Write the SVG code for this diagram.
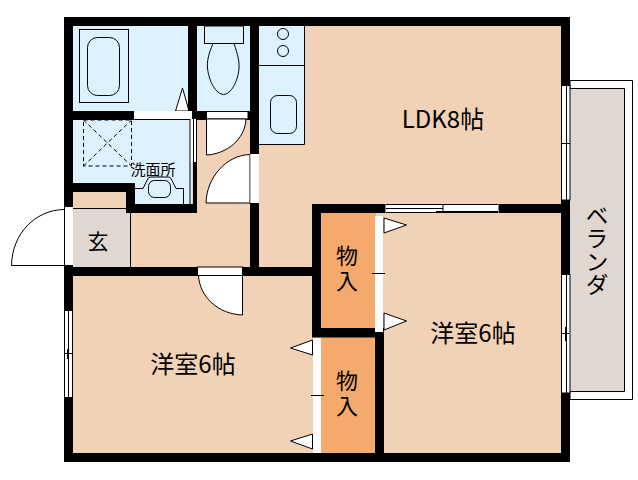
<svg xmlns="http://www.w3.org/2000/svg" width="638" height="480" viewBox="0 0 638 480">
<style>
.w{fill:#000}
.f{fill:#f2d2b6}
.b{fill:#ddf1ff}
.c{fill:#f4aa6d}
.g{fill:#e0d8d0}
.l{fill:none;stroke:#000;stroke-width:1}
.s{fill:#fff;stroke:#000;stroke-width:1}
.o{fill:#fff}
.d{fill:none;stroke:#000;stroke-width:1;stroke-dasharray:4 3}
text{font-family:"Noto Sans CJK JP","Noto Sans",sans-serif;fill:#000;text-anchor:middle}
.t{font-size:23px}
.m{font-size:22px}
</style>
<rect width="638" height="480" fill="#fff"/>
<g id="balcony">
<path class="s" d="M570 80.500H632.500V399.500H570Z"/>
<path class="g" d="M570 88H624V391H570Z"/>
<path class="l" d="M570 88.500H624.500V391.500H570"/>
<text font-size="23" style="font-size:23px;writing-mode:vertical-rl;text-orientation:upright" x="597" y="250">ベランダ</text>
</g>
<g id="floors">
<rect class="f" x="70" y="20" width="495" height="438"/>
</g>
<g id="bath">
<rect class="b" x="70" y="24" width="120" height="90"/>
<rect class="l" x="79.500" y="29.500" width="49" height="73"/>
<rect class="l" x="87.500" y="37.500" width="32" height="58" rx="10"/>
<path class="s" d="M175.500 111L182.500 88L189 111Z"/>
</g>
<g id="toilet">
<rect class="b" x="195" y="24" width="57" height="90"/>
<rect class="l" x="204.500" y="26" width="39" height="17.500"/>
<path class="l" d="M213 43.500C208 55 207 62 207.500 68C209 82 216 94 223.500 94.500C231 94 238 82 239 68C239.500 62 238 55 234 43.500"/>
</g>
<g id="washroom">
<path class="b" d="M70 118H192V206H133V185H70Z"/>
<rect class="d" x="83.500" y="120" width="48" height="46"/>
<path class="d" d="M83.500 166L131.500 120M83.500 120L131.500 166"/>
<path class="l" d="M135 188.500H143L148 178.500Q149 177 151 177H168Q170 177 171 178.500L176 188.500H183.500V204"/>
<rect class="l" x="148.500" y="180.500" width="22" height="17" rx="6"/>
<text style="font-size:15px" x="153" y="175">洗面所</text>
</g>
<g id="kitchen">
<path class="b" d="M257 24H304.500V144.500H257Z"/>
<path class="l" d="M304.500 26V144.500H259M259 65.500H304.500"/>
<circle class="l" cx="283" cy="34" r="5.500"/>
<circle class="l" cx="283" cy="51" r="5.500"/>
<rect class="l" x="270.500" y="95.500" width="26" height="38" rx="7"/>
</g>
<g id="entry">
<rect class="g" x="73" y="208.500" width="57" height="58.500"/>
<path class="l" d="M73 208.500H130.500V267"/>
<text class="t" style="font-size:21px" x="98" y="249">玄</text>
</g>
<g id="closets">
<rect class="c" x="321" y="213" width="55" height="115"/>
<rect class="c" x="321" y="337" width="55" height="117"/>
<text class="m" x="347" y="264">物</text>
<text class="m" x="347" y="289">入</text>
<text class="m" x="347" y="389">物</text>
<text class="m" x="347" y="414">入</text>
</g>
<g id="walls">
<rect class="w" x="64" y="17" width="506" height="9"/>
<rect class="w" x="64" y="17" width="9" height="445"/>
<rect class="w" x="64" y="453" width="506" height="9"/>
<rect class="w" x="561" y="17" width="9" height="445"/>
<rect class="w" x="188" y="17" width="9" height="103"/>
<rect class="w" x="250" y="17" width="9" height="137"/>
<rect class="w" x="250" y="203" width="9" height="73"/>
<rect class="w" x="73" y="111" width="177" height="9"/>
<rect class="w" x="73" y="183" width="62" height="9"/>
<rect class="w" x="126" y="183" width="9" height="30"/>
<rect class="w" x="126" y="204" width="71" height="9"/>
<rect class="w" x="194" y="162" width="3" height="50"/>
<rect class="w" x="64" y="267" width="252" height="9"/>
<rect class="w" x="312" y="204" width="9" height="133"/>
<rect class="w" x="312" y="204" width="249" height="9"/>
<rect class="w" x="312" y="328" width="72" height="9.500"/>
<rect class="w" x="375" y="337" width="9" height="120"/>
</g>
<g id="doors">
<rect class="o" x="134" y="111" width="58" height="8"/>
<rect class="s" x="206.500" y="111.500" width="41.500" height="7.500"/>
<path class="s" d="M206.500 119V155C226 154 245 140 246 119Z"/>
<path class="s" d="M206 203C206.500 178 226 155 250 154.500V203Z"/>
<rect class="o" x="250.500" y="154" width="8.500" height="49"/>
<rect class="o" x="65" y="207" width="8" height="58"/>
<path class="l" d="M64 209.500C35 210 12 234 11.500 265.500H64"/>
<rect class="s" x="197.500" y="267" width="45" height="8.500"/>
<path class="s" d="M198.500 276C200 297 218 314 242.500 315V276"/>
<rect class="o" x="190" y="119" width="7" height="43"/>
<path class="l" d="M190 119V205M193.500 119V205M196.500 119V162"/>
</g>
<g id="windows">
<rect class="s" x="561.500" y="85.500" width="8.500" height="114.500"/>
<path class="l" d="M566.500 85.500V200M561.500 143.500H570M566.500 137V149"/>
<rect class="s" x="561.500" y="274.500" width="8.500" height="118.500"/>
<path class="l" d="M566.500 274.500V393M561.500 333.500H569M565.500 327V341"/>
<rect class="s" x="64.500" y="310.500" width="8" height="87"/>
<path class="l" d="M68.500 310.500V397.500M64.500 353.500H72M67.500 349V359"/>
<rect class="o" x="385.500" y="204" width="113" height="9"/>
<path class="l" d="M386 204.500H498M386 212.500H498M386 208.500H443M436 211.500H498M443 205V212"/>
<rect class="o" x="375" y="216" width="8" height="116"/>
<path class="l" d="M372 273.500H385"/>
<path class="s" d="M384 218L406.500 225L384 233Z"/>
<path class="s" d="M384 313L406.500 321L384 330Z"/>
<rect class="o" x="313" y="338" width="8" height="115"/>
<path class="l" d="M311 395.500H324"/>
<path class="s" d="M312.500 340L290.500 348L312.500 355Z"/>
<path class="s" d="M312.500 434L290.500 441L312.500 449Z"/>
</g>
<g id="labels">
<text class="t" style="font-size:24px" x="443" y="128">LDK8帖</text>
<text class="t" style="font-size:24px" x="473" y="342">洋室6帖</text>
<text class="t" style="font-size:24px" x="193" y="373">洋室6帖</text>
</g>
</svg>
